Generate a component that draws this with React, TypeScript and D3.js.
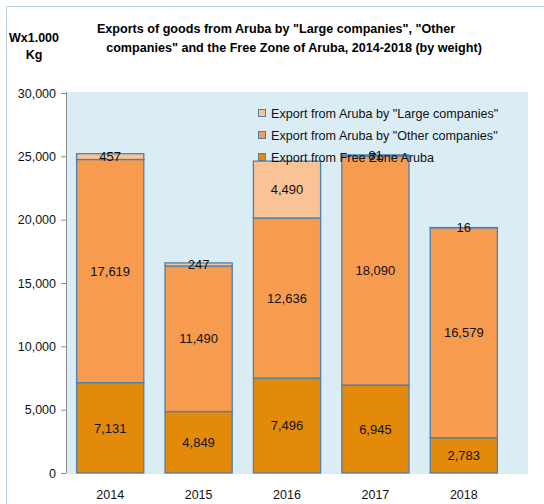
import React from 'react';
import * as d3 from 'd3';

const years = ['2014', '2015', '2016', '2017', '2018'];
const freeZone = [7131, 4849, 7496, 6945, 2783];
const otherCompanies = [17619, 11490, 12636, 18090, 16579];
const largeCompanies = [457, 247, 4490, 81, 16];
const yTicks = [0, 5000, 10000, 15000, 20000, 25000, 30000];

const seriesNames = [
  'Export from Free Zone Aruba',
  'Export from Aruba by "Other companies"',
  'Export from Aruba by "Large companies"',
];
const colors = ['#e38a0b', '#f79b4f', '#fac396'];

const width = 544;
const height = 504;
const font = '"Liberation Sans", Arial, sans-serif';

const App = () => {
  const plot = { left: 66, right: 528, top: 92, bottom: 474 };

  const x = d3
    .scaleBand<string>()
    .domain(years)
    .range([plot.left, 508])
    .paddingInner(0.24)
    .paddingOuter(0.12);
  const y = d3.scaleLinear().domain([0, 30000]).range([473, 93]);

  const rows = years.map((year, i) => ({
    year,
    free: freeZone[i],
    other: otherCompanies[i],
    large: largeCompanies[i],
  }));
  const stacked = d3.stack<typeof rows[number]>().keys(['free', 'other', 'large'])(rows);

  return (
    <svg
      width={width}
      height={height}
      style={{ position: 'absolute', left: 0, top: 0 }}
      fontFamily={font}
    >
      <rect x={0} y={0} width={width} height={height} fill="#fff" />
      <rect x={6.5} y={6.5} width={width + 20} height={height + 20} fill="none" stroke="#b9cde2" />

      <text x={34} y={42} textAnchor="middle" fontSize={12.5} fontWeight="bold">
        Wx1.000
      </text>
      <text x={34} y={59} textAnchor="middle" fontSize={12.5} fontWeight="bold">
        Kg
      </text>
      <text textAnchor="middle" fontSize={12.6} fontWeight="bold">
        <tspan x={276} y={33}>Exports of goods from Aruba by "Large companies", "Other</tspan>
        <tspan x={294} y={52}>companies" and the Free Zone of Aruba, 2014-2018 (by weight)</tspan>
      </text>

      <rect
        x={plot.left}
        y={plot.top}
        width={plot.right - plot.left}
        height={plot.bottom - plot.top}
        fill="#dbedf4"
      />

      {stacked.map((layer, si) => (
        <g key={layer.key}>
          {layer.map((d, i) => (
            <rect
              key={i}
              x={x(years[i])}
              y={y(d[1])}
              width={x.bandwidth()}
              height={y(d[0]) - y(d[1])}
              fill={colors[si]}
              stroke="#4f7fae"
              strokeWidth={1.3}
            />
          ))}
        </g>
      ))}

      {stacked.map((layer, si) => (
        <g key={layer.key} fontSize={13} textAnchor="middle" fill="#111">
          {layer.map((d, i) => (
            <text
              key={i}
              x={(x(years[i]) ?? 0) + x.bandwidth() / 2}
              y={y((d[0] + d[1]) / 2)}
              dy="0.36em"
            >
              {d3.format(',')(d[1] - d[0])}
            </text>
          ))}
        </g>
      ))}

      <line x1={plot.left + 0.5} x2={plot.left + 0.5} y1={plot.top} y2={473} stroke="#8c8c8c" />
      {yTicks.map((t) => (
        <g key={t}>
          <line x1={61} x2={plot.left} y1={y(t) + 0.5} y2={y(t) + 0.5} stroke="#8c8c8c" />
          <text x={56} y={y(t)} dy="0.36em" textAnchor="end" fontSize={12.5} fill="#111">
            {d3.format(',')(t)}
          </text>
        </g>
      ))}
      {years.map((yr) => (
        <text
          key={yr}
          x={(x(yr) ?? 0) + x.bandwidth() / 2}
          y={494}
          dy="0.36em"
          textAnchor="middle"
          fontSize={12.5}
          fill="#111"
        >
          {yr}
        </text>
      ))}

      {[2, 1, 0].map((si, row) => (
        <g key={si} transform={`translate(258,${113 + row * 22})`}>
          <rect x={0.5} y={-3.5} width={7} height={7} fill={colors[si]} stroke="#4f7fae" />
          <text x={13} y={0} dy="0.36em" fontSize={12.6} fill="#111">
            {seriesNames[si]}
          </text>
        </g>
      ))}
    </svg>
  );
};

export default App;
